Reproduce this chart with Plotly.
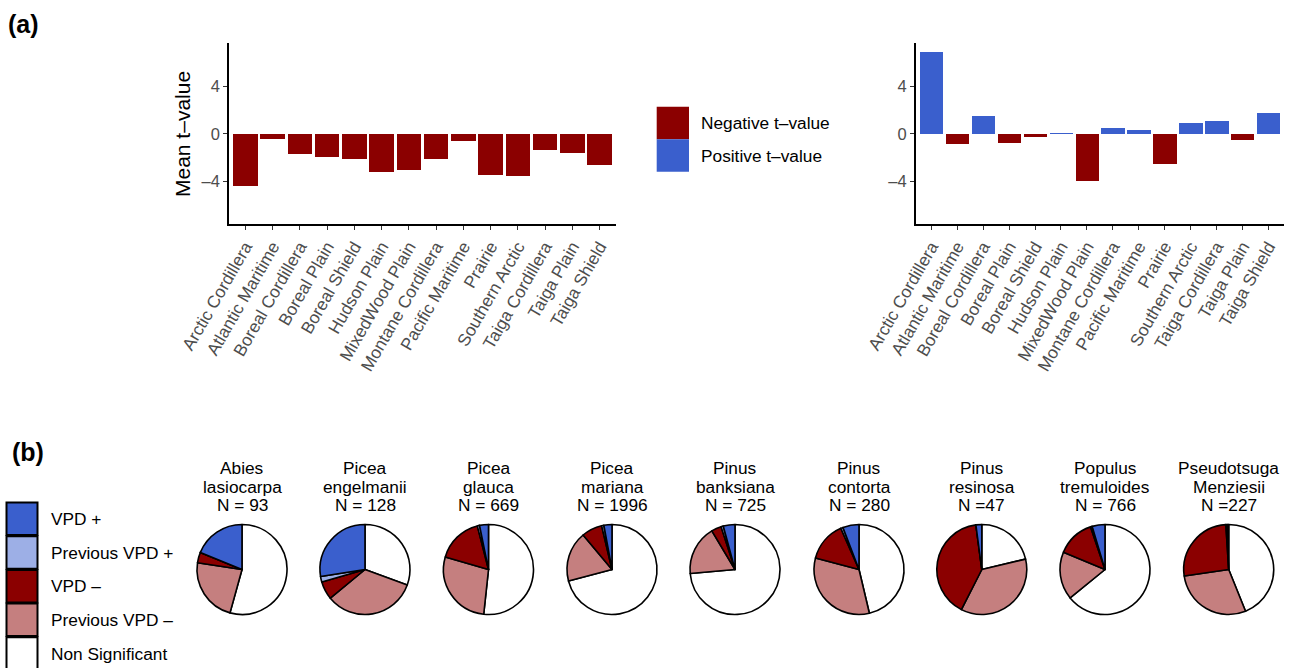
import plotly.graph_objects as go

# ---------------- data ----------------
regions = ["Arctic Cordillera", "Atlantic Maritime", "Boreal Cordillera", "Boreal Plain",
           "Boreal Shield", "Hudson Plain", "MixedWood Plain", "Montane Cordillera",
           "Pacific Maritime", "Prairie", "Southern Arctic", "Taiga Cordillera",
           "Taiga Plain", "Taiga Shield"]
t_left = [-4.43, -0.39, -1.68, -1.93, -2.10, -3.19, -3.02, -2.10, -0.59, -3.44, -3.53, -1.34, -1.60, -2.60]
t_right = [6.90, -0.84, 1.51, -0.76, -0.25, 0.08, -3.95, 0.50, 0.34, -2.52, 0.92, 1.10, -0.50, 1.77]

y_ticks = [-4, 0, 4]
y_tick_text = ["\u20134", "0", "4"]

bar_legend = ["Negative t\u2013value", "Positive t\u2013value"]

pie_cats = ["VPD +", "Previous VPD +", "VPD \u2013", "Previous VPD \u2013", "Non Significant"]
species_genus = ["Abies", "Picea", "Picea", "Picea", "Pinus", "Pinus", "Pinus", "Populus", "Pseudotsuga"]
species_epithet = ["lasiocarpa", "engelmanii", "glauca", "mariana", "banksiana", "contorta",
                   "resinosa", "tremuloides", "Menziesii"]
species_n = ["N = 93", "N = 128", "N = 669", "N = 1996", "N = 725", "N = 280", "N =47", "N = 766", "N =227"]
# percentages: VPD+, Prev VPD+, VPD-, Prev VPD-, Non Significant
pie_abies = [18.8, 0.0, 3.8, 23.1, 54.3]
pie_engel = [27.5, 2.0, 6.5, 33.4, 30.6]
pie_glauca = [3.2, 0.8, 16.5, 27.8, 51.7]
pie_mariana = [2.9, 0.8, 7.4, 18.0, 70.9]
pie_banks = [4.2, 0.8, 3.6, 17.8, 73.6]
pie_contorta = [5.8, 0.8, 14.3, 32.8, 46.3]
pie_resinosa = [2.1, 0.0, 40.4, 36.2, 21.3]
pie_populus = [4.6, 0.6, 13.5, 17.2, 64.1]
pie_pseudo = [0.5, 0.5, 26.3, 28.8, 43.9]
pie_values = [pie_abies, pie_engel, pie_glauca, pie_mariana, pie_banks,
              pie_contorta, pie_resinosa, pie_populus, pie_pseudo]

# ---------------- styles ----------------
W, H = 1290, 668
RED = "#8B0000"
BLUE = "#3A5FCD"
LBLUE = "#9DAFE6"
PINK = "#C57F7F"
pie_colors = [BLUE, LBLUE, RED, PINK, "white"]
FONT = "Liberation Sans, Arial, Helvetica, sans-serif"
TXT = 17.3


def fx(x):
    return x / W


def fy(y):
    return 1 - y / H


fig = go.Figure()

fig.add_trace(go.Bar(x=regions, y=t_left, marker=dict(color=RED, line=dict(width=0)),
                     width=0.9, xaxis="x", yaxis="y", showlegend=False))
fig.add_trace(go.Bar(x=regions, y=t_right,
                     marker=dict(color=[BLUE if v > 0 else RED for v in t_right], line=dict(width=0)),
                     width=0.9, xaxis="x2", yaxis="y2", showlegend=False))

pie_cx = [242, 365, 488.5, 612, 735, 859, 981.8, 1105, 1228.7]
pie_cy = 569.5
R = 45
annotations = []
for i, vals in enumerate(pie_values):
    cx = pie_cx[i]
    # ggplot polar pie: clockwise from 12 o'clock, Non Significant first
    fig.add_trace(go.Pie(values=vals[::-1], labels=pie_cats[::-1], sort=False, direction="clockwise",
                         rotation=0, textinfo="none", showlegend=False,
                         marker=dict(colors=pie_colors[::-1], line=dict(color="black", width=1.6)),
                         domain=dict(x=[fx(cx - R), fx(cx + R)], y=[fy(pie_cy + R), fy(pie_cy - R)])))
    for k, line in enumerate([species_genus[i], species_epithet[i], species_n[i]]):
        annotations.append(dict(x=fx(cx), y=fy(468 + 18.5 * k), xref="paper", yref="paper",
                                text=line, showarrow=False, xanchor="center", yanchor="middle",
                                font=dict(size=TXT, color="black", family=FONT)))

axis_common = dict(showline=True, linecolor="black", linewidth=1.5, ticks="outside",
                   ticklen=4, tickcolor="#333333", tickwidth=1.2, showgrid=False, zeroline=False,
                   automargin=False)
ymin, ymax = -7.61, 7.69

fig.update_layout(
    width=W, height=H, margin=dict(l=0, r=0, t=0, b=0, autoexpand=False),
    paper_bgcolor="white", plot_bgcolor="white",
    font=dict(family=FONT),
    bargap=0,
    xaxis=dict(domain=[fx(229), fx(616)], anchor="y", range=[-0.6, 13.6], tickangle=-60,
               tickfont=dict(size=TXT, color="#4d4d4d"), **axis_common),
    yaxis=dict(domain=[fy(224), fy(43)], anchor="x", range=[ymin, ymax], tickvals=y_ticks,
               ticktext=y_tick_text, tickfont=dict(size=16.5, color="#4d4d4d"), **axis_common),
    xaxis2=dict(domain=[fx(915.7), fx(1284)], anchor="y2", range=[-0.6, 13.6], tickangle=-60,
                tickfont=dict(size=TXT, color="#4d4d4d"), **axis_common),
    yaxis2=dict(domain=[fy(224), fy(43)], anchor="x2", range=[ymin, ymax], tickvals=y_ticks,
                ticktext=y_tick_text, tickfont=dict(size=16.5, color="#4d4d4d"), **axis_common),
)

shapes = []
# (a) legend
leg_cols = [RED, BLUE]
for j, lab in enumerate(bar_legend):
    y0 = 106.7 + j * 32.5
    shapes.append(dict(type="rect", xref="paper", yref="paper", x0=fx(656.7), x1=fx(689),
                       y0=fy(y0 + 32.5), y1=fy(y0), fillcolor=leg_cols[j], line=dict(width=0)))
    annotations.append(dict(x=fx(699), y=fy(y0 + 16.5), xref="paper", yref="paper", text=lab,
                            showarrow=False, xanchor="left", yanchor="middle",
                            font=dict(size=TXT, color="black", family=FONT)))
# (b) legend
for j, lab in enumerate(pie_cats):
    y0 = 502.5 + j * 33.7
    shapes.append(dict(type="rect", xref="paper", yref="paper", x0=fx(6.5), x1=fx(37.5),
                       y0=fy(y0 + 32.5), y1=fy(y0), fillcolor=pie_colors[j],
                       line=dict(color="black", width=2)))
    annotations.append(dict(x=fx(49), y=fy(y0 + 16.5), xref="paper", yref="paper", text=lab,
                            showarrow=False, xanchor="left", yanchor="middle",
                            font=dict(size=TXT, color="black", family=FONT)))

annotations.append(dict(x=fx(183), y=fy(134), xref="paper", yref="paper", text="Mean t\u2013value",
                        textangle=-90, showarrow=False, xanchor="center", yanchor="middle",
                        font=dict(size=21, color="black", family=FONT)))
annotations.append(dict(x=fx(6), y=fy(24), xref="paper", yref="paper", text="<b>(a)</b>",
                        showarrow=False, xanchor="left", yanchor="middle",
                        font=dict(size=25, color="black", family=FONT)))
annotations.append(dict(x=fx(10), y=fy(452), xref="paper", yref="paper", text="<b>(b)</b>",
                        showarrow=False, xanchor="left", yanchor="middle",
                        font=dict(size=25, color="black", family=FONT)))

fig.update_layout(shapes=shapes, annotations=annotations)
fig.write_html("out.html", config={"displayModeBar": False},
               post_script="document.body.style.margin='0px';document.body.style.overflow='hidden';")
